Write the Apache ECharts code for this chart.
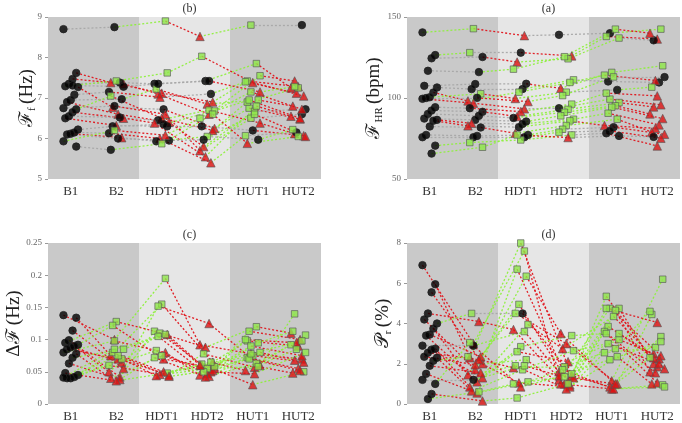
<!DOCTYPE html>
<html><head><meta charset="utf-8">
<script src="https://cdn.jsdelivr.net/npm/echarts@6/dist/echarts.min.js"></script>
<style>html,body{margin:0;padding:0;background:#fff}#c{width:682px;height:423px}</style>
</head><body><div id="c"></div>
<script>
const conditions = ['B1','B2','HDT1','HDT2','HUT1','HUT2'];

// (b) F_f (Hz): one row per subject, values at B1..HUT2
const ffData = [
 [8.70,8.75,8.90,8.52,8.80,8.80],
 [7.62,7.38,7.12,6.90,7.42,7.28],
 [7.47,7.35,7.10,6.60,7.55,7.42],
 [7.35,7.38,7.35,7.42,7.85,7.25],
 [7.29,7.42,7.62,8.03,7.38,7.05],
 [7.27,6.77,6.72,6.25,6.75,6.48],
 [7.08,7.15,7.02,7.10,7.40,7.12],
 [6.95,6.97,7.22,6.85,6.95,6.80],
 [6.90,6.60,6.40,5.80,6.67,6.72],
 [6.75,6.80,6.60,5.70,6.50,6.60],
 [6.72,7.05,6.50,6.20,6.90,7.25],
 [6.65,6.50,6.45,6.70,6.38,6.12],
 [6.55,6.52,6.38,5.55,6.80,6.55],
 [6.50,6.32,6.30,6.30,6.20,6.07],
 [6.22,6.30,6.35,6.68,6.95,6.50],
 [6.15,6.13,6.00,5.40,6.07,6.15],
 [6.12,6.02,5.93,6.05,5.97,6.22],
 [6.10,6.00,5.95,5.97,6.60,6.05],
 [5.93,6.20,6.08,6.50,7.15,6.72],
 [5.80,5.72,5.87,6.60,5.88,6.05],
 [7.31,7.28,7.35,7.42,7.15,7.28]
];
// (a) F_HR (bpm)
const fhrData = [
 [140.5,142.8,138.5,139.0,140.0,142.5],
 [126.5,128.0,128.0,126.0,138.0,136.4],
 [124.5,125.3,122.2,124.2,137.0,135.6],
 [116.8,116.0,117.8,125.5,142.5,140.0],
 [107.5,108.6,108.8,106.0,115.8,119.9],
 [106.5,105.5,105.5,111.2,110.2,109.6],
 [103.4,98.2,103.6,109.6,114.1,110.8],
 [100.5,102.6,99.7,103.6,105.0,106.7],
 [100.0,100.1,97.8,101.5,113.0,112.9],
 [99.5,96.8,93.3,93.7,99.3,95.8],
 [94.3,93.7,91.6,96.2,103.0,101.3],
 [92.3,91.5,88.6,93.0,97.2,94.5],
 [90.2,89.0,87.7,91.2,95.2,90.2],
 [87.3,86.5,85.5,89.0,94.3,87.3],
 [86.5,84.4,84.0,86.9,90.6,83.4],
 [86.0,82.8,82.0,85.9,83.0,81.3],
 [82.4,81.8,78.2,83.0,86.9,79.0],
 [77.2,76.6,77.2,80.7,82.0,77.6],
 [75.8,75.8,75.8,78.9,79.7,75.2],
 [70.6,72.5,74.1,77.2,78.2,70.4],
 [65.7,69.6,77.2,75.6,76.6,76.0]
];
// (c) Delta F (Hz)
const dfData = [
 [0.138,0.100,0.195,0.092,0.078,0.070],
 [0.134,0.075,0.155,0.065,0.098,0.090],
 [0.114,0.055,0.152,0.125,0.060,0.140],
 [0.099,0.042,0.113,0.088,0.120,0.110],
 [0.095,0.128,0.108,0.060,0.075,0.065],
 [0.092,0.122,0.070,0.055,0.113,0.100],
 [0.090,0.050,0.110,0.050,0.100,0.095],
 [0.088,0.065,0.083,0.047,0.095,0.113],
 [0.085,0.070,0.045,0.078,0.057,0.107],
 [0.080,0.098,0.080,0.045,0.090,0.075],
 [0.078,0.040,0.075,0.052,0.072,0.055],
 [0.072,0.085,0.105,0.043,0.080,0.068],
 [0.063,0.038,0.072,0.042,0.063,0.092],
 [0.048,0.036,0.048,0.062,0.030,0.050],
 [0.045,0.080,0.050,0.058,0.070,0.052],
 [0.042,0.060,0.046,0.065,0.052,0.085],
 [0.040,0.070,0.044,0.055,0.058,0.048],
 [0.040,0.075,0.043,0.050,0.047,0.080],
 [0.041,0.085,0.108,0.060,0.078,0.098]
];
// (d) P_r (%)
const prData = [
 [6.90,3.00,7.60,1.20,4.75,2.40],
 [5.95,2.30,8.00,1.40,5.35,1.85],
 [5.55,2.00,6.70,1.10,4.75,2.00],
 [4.50,4.10,3.70,1.00,4.65,1.60],
 [4.20,1.70,6.35,3.50,1.15,6.20],
 [4.00,4.50,4.50,1.30,3.85,2.25],
 [3.75,1.45,4.95,0.95,3.60,1.55],
 [3.45,2.35,4.50,3.00,1.00,4.45],
 [3.40,1.10,3.95,2.75,4.35,1.75],
 [2.90,2.90,3.60,1.60,0.85,3.35],
 [2.75,0.85,2.85,3.40,3.50,1.05],
 [2.70,1.30,2.60,2.10,3.20,2.50],
 [2.55,2.20,1.80,1.85,2.75,4.60],
 [2.35,1.95,2.20,1.00,0.75,0.95],
 [2.30,0.65,1.70,2.65,3.00,2.00],
 [2.15,2.35,1.05,0.85,2.55,2.80],
 [1.90,1.55,1.90,0.75,2.35,1.00],
 [1.50,0.55,1.10,1.70,0.75,0.85],
 [1.20,1.20,1.90,1.40,2.20,3.10],
 [1.00,3.05,0.85,1.50,4.75,4.05],
 [0.50,0.15,0.30,1.00,3.50,2.30],
 [0.25,0.60,1.00,1.35,1.00,2.30]
];

const panels = [
  {title:'(b)', data:ffData, thr:0.1, min:5, max:9, interval:1, nameX:27, name:'{f|ℱ}{s|f} {f|(Hz)}', grid:{left:48,width:273,top:17,height:162}},
  {title:'(a)', data:fhrData, thr:1.5, min:50, max:150, interval:50, nameX:374, name:'{f|ℱ}{s|HR} {f|(bpm)}', grid:{left:407,width:273,top:17,height:162}},
  {title:'(c)', data:dfData, thr:0.002, min:0, max:0.25, interval:0.05, nameX:14, name:'{f|Δℱ} {f|(Hz)}', grid:{left:48,width:273,top:243,height:161}},
  {title:'(d)', data:prData, thr:0.05, min:0, max:8, interval:2, nameX:383, name:'{f|𝒫}{s|r} {f|(%)}', grid:{left:407,width:273,top:243,height:161}}
];

const GREEN='#8ef03c', RED='#e0141b', GRAY='#a8a8a8';
const serif = '"Liberation Serif","DejaVu Serif",serif';

const option = {animation:false, grid:[], xAxis:[], yAxis:[], series:[], title:[], graphic:[]};
panels.forEach((p, k) => {
  option.grid.push(Object.assign({containLabel:false}, p.grid));
  option.title.push({text:p.title, left:p.grid.left + p.grid.width/2, top:p.grid.top-19, textAlign:'center',
    textStyle:{fontFamily:serif, fontSize:12, fontWeight:'normal', color:'#333'}});
  option.graphic.push({type:'text', x:p.nameX, y:p.grid.top + p.grid.height/2, rotation:Math.PI/2, silent:true,
    style:{text:p.name, align:'center', verticalAlign:'middle',
      rich:{f:{fontFamily:serif, fontSize:19, fill:'#222'}, s:{fontFamily:serif, fontSize:11, fill:'#222', padding:[10,0,0,0]}}}});
  option.xAxis.push({type:'category', gridIndex:k, data:conditions, boundaryGap:true,
    axisLine:{show:false}, axisTick:{show:false}, splitLine:{show:false},
    axisLabel:{fontFamily:serif, fontSize:13, color:'#333', margin:6}});
  option.xAxis.push({type:'value', gridIndex:k, min:0.5, max:6.5, show:false});
  option.yAxis.push({type:'value', gridIndex:k, min:p.min, max:p.max, interval:p.interval,
    axisLine:{show:false}, axisTick:{show:true, length:3, lineStyle:{color:'#999'}}, splitLine:{show:false},
    axisLabel:{fontFamily:serif, fontSize:9, color:'#666', margin:6}});
  const xi = 2*k+1;
  // background bands
  option.series.push({type:'scatter', xAxisIndex:xi, yAxisIndex:k, data:[], silent:true, z:0,
    markArea:{silent:true, data:[
      [{xAxis:0.5, itemStyle:{color:'#c9c9c9'}},{xAxis:2.5}],
      [{xAxis:2.5, itemStyle:{color:'#e6e6e6'}},{xAxis:4.5}],
      [{xAxis:4.5, itemStyle:{color:'#c9c9c9'}},{xAxis:6.5}]]}});
  const lines = [], pts = [];
  p.data.forEach((row, i) => {
    const xs = row.map((v, c) => c + 1 + (((i*7 + c*3) % 9) - 4) * 0.04);
    row.forEach((v, c) => {
      let sym='circle', col='#000', bc='#222', size=7.5;
      if (c > 0) {
        const d = v - row[c-1];
        let lc = GRAY;
        if (Math.abs(d) >= p.thr) { lc = d > 0 ? GREEN : RED; sym = d > 0 ? 'rect' : 'triangle'; col = d > 0 ? '#8fe64a' : '#dd1212'; bc='#555'; size = d>0?6.5:8.5; }
        lines.push({coords:[[xs[c-1], row[c-1]],[xs[c], v]], lineStyle:{color:lc}});
      }
      pts.push({value:[xs[c], v], symbol:sym, symbolSize:size, itemStyle:{color:col, borderColor:bc, borderWidth:sym==='circle'?1:0.8}});
    });
  });
  option.series.push({type:'lines', coordinateSystem:'cartesian2d', xAxisIndex:xi, yAxisIndex:k, z:2,
    lineStyle:{width:1.3, type:[2,2], opacity:0.95}, data:lines, silent:true});
  option.series.push({type:'scatter', xAxisIndex:xi, yAxisIndex:k, z:3, data:pts, silent:true});
});
const chart = echarts.init(document.getElementById('c'), null, {renderer:'canvas'});
chart.setOption(option);
</script></body></html>
